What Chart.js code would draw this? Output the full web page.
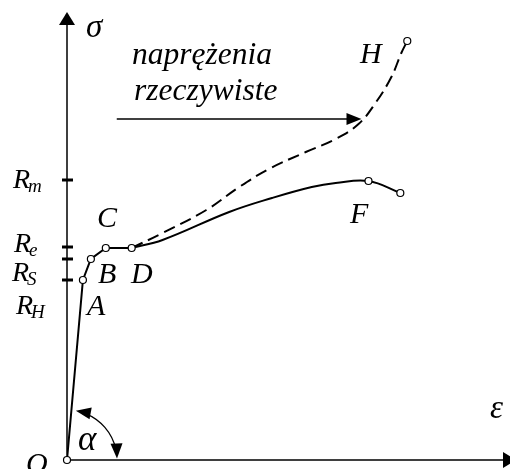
<!DOCTYPE html>
<html>
<head>
<meta charset="utf-8">
<script src="https://cdn.jsdelivr.net/npm/chart.js@4.4.0/dist/chart.umd.min.js"></script>
<style>
  html, body { margin: 0; padding: 0; background: #fff; }
  canvas { display: block; }
</style>
</head>
<body>
<canvas id="diagram" width="510" height="469"></canvas>
<script>
// linear part O-A-B-C-D (strain, stress)
const elasticEps = [0, 1.6, 2.4, 3.9, 6.5];
const elasticSig = [0, 18.0, 20.1, 21.2, 21.2];

// nominal curve D ... F ... end
const nominalEps = [6.5, 9.6, 16.3, 20.6, 24.6, 27.0, 30.3, 33.5];
const nominalSig = [21.2, 22.0, 24.8, 26.2, 27.3, 27.7, 27.9, 26.7];

// true stress curve D ... H (dashed)
const trueEps = [6.5, 9.6, 14.0, 17.3, 20.3, 24.0, 27.0, 29.3, 31.0, 32.6, 33.6, 34.2];
const trueSig = [21.2, 22.7, 25.0, 27.3, 29.1, 30.8, 32.1, 33.6, 35.7, 38.3, 40.7, 41.9];

// characteristic points O, A, B, C, D, F, end, H
const markEps = [0, 1.6, 2.4, 3.9, 6.5, 30.3, 33.5, 34.2];
const markSig = [0, 18.0, 20.1, 21.2, 21.2, 27.9, 26.7, 41.9];

// stress levels marked on the sigma axis
const levelValues = [28.0, 21.3, 20.1, 18.0];

// arrow pointing at the true stress curve
const pointerEps = [5.0, 29.6];
const pointerSig = [34.1, 34.1];

const toXY = (xs, ys) => xs.map((x, i) => ({x: x, y: ys[i]}));

const SERIF = '"Liberation Serif", "Times New Roman", serif';

function arrowHead(ctx, x, y, ang, len, half) {
    ctx.save();
    ctx.translate(x, y);
    ctx.rotate(ang);
    ctx.beginPath();
    ctx.moveTo(0, 0);
    ctx.lineTo(-len, -half);
    ctx.lineTo(-len, half);
    ctx.closePath();
    ctx.fill();
    ctx.restore();
}

// R with a subscript
function rLabel(ctx, sub, x, y) {
    ctx.font = "italic 28px " + SERIF;
    ctx.fillText("R", x, y);
    const w = ctx.measureText("R").width;
    ctx.font = "italic 19px " + SERIF;
    ctx.fillText(sub, x + w - 2, y + 4);
}

const axesPlugin = {
    id: "axesPlugin",
    beforeDatasetsDraw(chart) {
        const {ctx, scales} = chart;
        const sx = scales.x, sy = scales.y;
        const ox = sx.getPixelForValue(0), oy = sy.getPixelForValue(0);
        ctx.save();
        ctx.strokeStyle = "#000";
        ctx.fillStyle = "#000";

        // axes
        ctx.lineWidth = 1.5;
        ctx.beginPath();
        ctx.moveTo(ox, oy);
        ctx.lineTo(ox, 24);
        ctx.moveTo(ox, oy);
        ctx.lineTo(505, oy);
        ctx.stroke();
        arrowHead(ctx, ox, 12, -Math.PI / 2, 13, 8);
        arrowHead(ctx, 516, oy, 0, 13, 8);

        // level ticks
        ctx.lineWidth = 3;
        levelValues.forEach(v => {
            const py = sy.getPixelForValue(v);
            ctx.beginPath();
            ctx.moveTo(ox - 5, py);
            ctx.lineTo(ox + 6, py);
            ctx.stroke();
        });

        // pointer arrow
        const px0 = sx.getPixelForValue(pointerEps[0]);
        const px1 = sx.getPixelForValue(pointerEps[1]);
        const py0 = sy.getPixelForValue(pointerSig[0]);
        ctx.lineWidth = 1.5;
        ctx.beginPath();
        ctx.moveTo(px0, py0);
        ctx.lineTo(px1 - 10, py0);
        ctx.stroke();
        arrowHead(ctx, px1, py0, 0, 15, 6);

        // angle alpha between O-A and the strain axis
        const ax = sx.getPixelForValue(elasticEps[1]) - ox;
        const ay = sy.getPixelForValue(elasticSig[1]) - oy;
        const a0 = Math.atan2(ay, ax) + 0.09;
        const a1 = -0.03;
        const r = 50;
        ctx.lineWidth = 1.3;
        ctx.beginPath();
        ctx.arc(ox, oy, r, a0 + 0.2, a1 - 0.2);
        ctx.stroke();
        arrowHead(ctx, ox + r * Math.cos(a0), oy + r * Math.sin(a0),
            a0 - Math.PI / 2, 15, 6);
        arrowHead(ctx, ox + r * Math.cos(a1), oy + r * Math.sin(a1),
            a1 + Math.PI / 2, 15, 6);
        ctx.restore();
    },
    afterDatasetsDraw(chart) {
        const {ctx} = chart;
        ctx.save();
        ctx.fillStyle = "#000";
        ctx.textBaseline = "alphabetic";

        ctx.font = "italic 33px " + SERIF;
        ctx.fillText("σ", 86, 37);
        ctx.fillText("ε", 490, 418);
        ctx.font = "italic 35px " + SERIF;
        ctx.fillText("α", 78, 450);

        ctx.font = "italic 30px " + SERIF;
        ctx.fillText("O", 26, 473);
        ctx.fillText("A", 87, 315);
        ctx.fillText("B", 98, 283);
        ctx.fillText("C", 97, 227);
        ctx.fillText("D", 131, 283);
        ctx.fillText("F", 350, 223);
        ctx.fillText("H", 360, 63);

        ctx.font = "italic 31.5px " + SERIF;
        ctx.fillText("naprężenia", 132, 64);
        ctx.fillText("rzeczywiste", 134, 100);

        rLabel(ctx, "m", 13, 188);
        rLabel(ctx, "e", 14, 252);
        rLabel(ctx, "S", 12, 281);
        rLabel(ctx, "H", 16, 314);
        ctx.restore();
    }
};

new Chart(document.getElementById("diagram"), {
    type: "scatter",
    data: {
        datasets: [
            {
                data: toXY(markEps, markSig),
                showLine: false,
                clip: false,
                pointRadius: 3.5,
                pointBackgroundColor: "#fff",
                pointBorderColor: "#000",
                pointBorderWidth: 1.2,
                order: 0
            },
            {
                data: toXY(elasticEps, elasticSig),
                showLine: true,
                borderColor: "#000",
                borderWidth: 2,
                tension: 0,
                pointRadius: 0,
                order: 1
            },
            {
                data: toXY(nominalEps, nominalSig),
                showLine: true,
                borderColor: "#000",
                borderWidth: 2,
                tension: 0.4,
                pointRadius: 0,
                order: 1
            },
            {
                data: toXY(trueEps, trueSig),
                showLine: true,
                borderColor: "#000",
                borderWidth: 2,
                borderDash: [12, 6],
                tension: 0.4,
                pointRadius: 0,
                order: 1
            }
        ]
    },
    options: {
        responsive: false,
        animation: false,
        layout: {padding: {left: 67, right: 3, top: 12, bottom: 9}},
        plugins: {legend: {display: false}, tooltip: {enabled: false}},
        scales: {
            x: {type: "linear", min: 0, max: 44, display: false},
            y: {type: "linear", min: 0, max: 44.8, display: false}
        }
    },
    plugins: [axesPlugin]
});
</script>
</body>
</html>
